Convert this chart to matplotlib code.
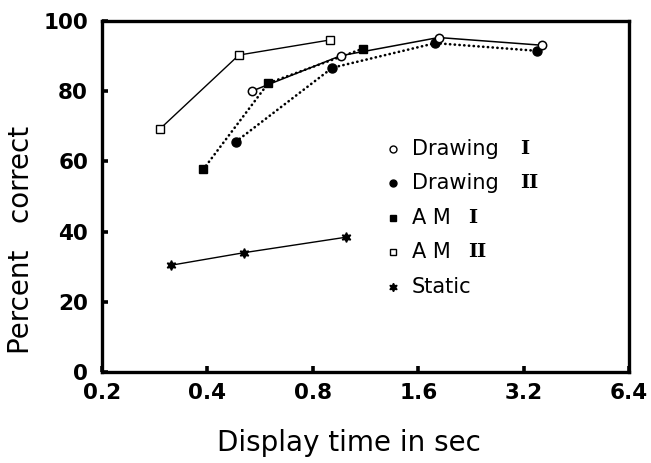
import matplotlib
matplotlib.use("Agg")
import matplotlib.pyplot as plt
from matplotlib.ticker import FixedLocator, FixedFormatter, NullLocator

plt.rcParams['font.family'] = ['DejaVu Sans']

# ---- data ----
x_ticks = [0.2, 0.4, 0.8, 1.6, 3.2, 6.4]
x_tick_labels = ["0.2", "0.4", "0.8", "1.6", "3.2", "6.4"]
y_ticks = [0, 20, 40, 60, 80, 100]
y_tick_labels = ["0", "20", "40", "60", "80", "100"]

drawing1_x = [0.535, 0.96, 1.83, 3.61]
drawing1_y = [80.0, 90.1, 95.3, 93.1]

drawing2_x = [0.482, 0.91, 1.79, 3.5]
drawing2_y = [65.6, 86.7, 93.7, 91.5]

am1_x = [0.389, 0.597, 1.11]
am1_y = [57.7, 82.3, 92.1]

am2_x = [0.293, 0.492, 0.895]
am2_y = [69.3, 90.3, 94.6]

static_x = [0.314, 0.509, 0.994]
static_y = [30.4, 34.0, 38.4]

legend_names = ["Drawing", "Drawing", "A M", "A M", "Static"]
legend_numerals = ["I", "II", "I", "II", ""]

# ---- figure ----
fig = plt.figure(figsize=(6.51, 4.63), dpi=100)
ax = fig.add_axes([0.1567, 0.1965, 0.8095, 0.7581])

dotted = (0, (0.1, 1.7))

ax.plot(am2_x, am2_y, color='black', lw=1.0, marker='s', ms=5.5,
        mfc='white', mec='black', mew=1.0, zorder=3)
ax.plot(static_x, static_y, color='black', lw=1.0, marker=(6, 1, 0), ms=7,
        mfc='black', mec='black', zorder=3)
ax.plot(am1_x, am1_y, color='black', lw=1.9, ls=dotted, dash_capstyle='round',
        marker='s', ms=5.5, mfc='black', mec='black', zorder=3)
ax.plot(drawing2_x, drawing2_y, color='black', lw=1.9, ls=dotted, dash_capstyle='round',
        marker='o', ms=6.5, mfc='black', mec='black', zorder=3)
ax.plot(drawing1_x, drawing1_y, color='black', lw=1.1, marker='o', ms=6,
        mfc='white', mec='black', mew=1.1, zorder=4)

ax.set_xscale('log', base=2)
ax.set_xlim(0.2, 6.4)
ax.set_ylim(0, 100)

ax.xaxis.set_major_locator(FixedLocator(x_ticks))
ax.xaxis.set_major_formatter(FixedFormatter(x_tick_labels))
ax.xaxis.set_minor_locator(NullLocator())
ax.yaxis.set_major_locator(FixedLocator(y_ticks))
ax.yaxis.set_major_formatter(FixedFormatter(y_tick_labels))

for sp in ax.spines.values():
    sp.set_linewidth(2.4)

ax.tick_params(axis='both', direction='in', length=4, width=2.6, labelsize=15.5)
ax.tick_params(axis='x', pad=8)
ax.tick_params(axis='y', pad=10)
for lab in ax.get_xticklabels() + ax.get_yticklabels():
    lab.set_fontweight('bold')

ax.set_xlabel("Display time in sec", fontsize=20, va='center', ha='center')
ax.xaxis.set_label_coords(0.469, -0.202)
ax.set_ylabel("Percent   correct", fontsize=20, va='center', ha='center')
ax.yaxis.set_label_coords(-0.154, 0.376)

# ---- legend (manual) ----
leg_markers = [dict(marker='o', mfc='white', mec='black', ms=5, mew=1.0),
               dict(marker='o', mfc='black', mec='black', ms=5),
               dict(marker='s', mfc='black', mec='black', ms=5),
               dict(marker='s', mfc='white', mec='black', ms=5, mew=1.0),
               dict(marker=(6, 1, 0), mfc='black', mec='black', ms=6)]
leg_y = [0.634, 0.538, 0.439, 0.342, 0.242]
numeral_x = [0.793, 0.793, 0.695, 0.695, 0.0]
for name, num, mk, yy, nx in zip(legend_names, legend_numerals, leg_markers, leg_y, numeral_x):
    ax.plot([0.553], [yy], transform=ax.transAxes, ls='none', clip_on=False, **mk)
    ax.text(0.588, yy, name, transform=ax.transAxes, fontsize=15,
            va='center', ha='left')
    if num:
        ax.text(nx, yy, num, transform=ax.transAxes, fontsize=14,
                family='DejaVu Serif', fontweight='bold', va='center', ha='left')

fig.savefig("out.png", dpi=100)
